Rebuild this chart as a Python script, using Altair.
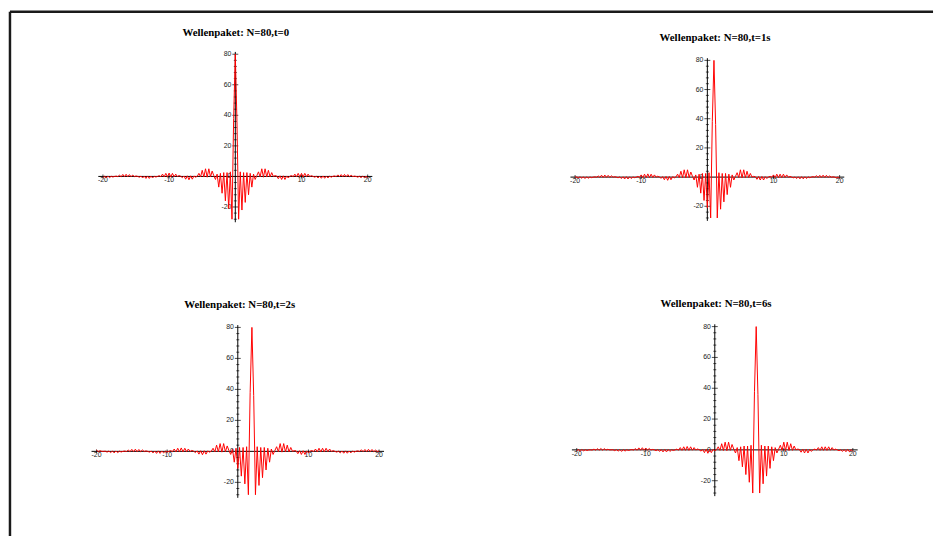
import altair as alt
import pandas as pd

# ---------------- data ----------------
TITLES = ["Wellenpaket: N=80,t=0", "Wellenpaket: N=80,t=1s",
          "Wellenpaket: N=80,t=2s", "Wellenpaket: N=80,t=6s"]
CENTERS = [0, 1, 2, 6]          # position of the packet's peak in each panel
R_START = -26.0                 # profile offsets relative to the peak
R_STEP = 0.25
PROFILE = [
    -0.5, 0.2, -0.7, 0.2, -0.6, 0.1, -0.4, 0.0,
    0.0, -0.1, 0.5, -0.2, 0.8, -0.2, 0.9, -0.2,
    0.8, -0.1, 0.4, 0.0, 0.0, 0.1, -0.5, 0.2,
    -0.8, 0.2, -1.0, 0.2, -0.8, 0.1, -0.4, 0.0,
    0.2, -0.1, 0.8, -0.2, 1.3, -0.2, 1.4, -0.2,
    1.2, -0.2, 0.9, -0.1, 0.3, 0.0, -0.5, 0.2,
    -1.0, 0.2, -1.3, 0.3, -1.3, 0.2, -1.0, 0.1,
    -0.4, 0.0, 0.5, -0.2, 1.5, -0.3, 2.0, -0.3,
    2.2, -0.3, 2.0, -0.2, 1.5, -0.1, 0.6, 0.1,
    -0.8, 0.3, -1.8, 0.4, -2.2, 0.4, -1.8, 0.3,
    -0.5, 0.1, 2.0, -0.3, 4.0, -0.4, 5.0, -0.5,
    5.0, -0.3, 3.5, 0.5, -2.0, 1.5, -7.0, 2.0,
    -11.0, 2.5, -16.0, 2.5, -21.0, 3.0, -28.0, 38.0,
    80.0, 36.0, -28.0, 3.0, -22.0, 2.5, -17.0, 2.5,
    -12.0, 2.0, -7.0, 1.5, -2.0, 0.5, 3.0, -0.3,
    5.0, -0.5, 5.0, -0.4, 4.0, -0.3, 2.5, 0.0,
    0.5, 0.3, -1.5, 0.4, -2.0, 0.4, -2.0, 0.3,
    -1.0, 0.2, 0.5, -0.1, 1.5, -0.3, 2.0, -0.3,
    2.0, -0.3, 2.0, -0.2, 1.5, -0.1, 0.5, 0.0,
    -0.5, 0.1, -1.0, 0.2, -1.2, 0.3, -1.2, 0.2,
    -1.0, 0.2, -0.5, 0.1, 0.3, -0.1, 1.0, -0.2,
    1.2, -0.2, 1.3, -0.2, 1.2, -0.2, 0.8, -0.1,
    0.2, 0.0, -0.5, 0.1, -0.8, 0.2, -0.9, 0.2,
    -0.8,
]
X_RANGE = [-20, 20]

X_TICKS = [-20, -10, 10, 20]
X_TICK_LABELS = ["-20", "-10", "10", "20"]
Y_MAJOR = [-20, 20, 40, 60, 80]
Y_MINOR = [-28, -24, -16, -12, -8, -4, 4, 8, 12, 16, 24, 28, 32, 36,
           44, 48, 52, 56, 64, 68, 72, 76]
Y_TICK_VALUES = [80, 60, 40, 20, 0, -20]
Y_TICK_LABELS = ["80", "60", "40", "20", "0", "-20"]
X_AXIS_EXTENT = [-20.7, 20.7]
Y_AXIS_EXTENT = [-30, 81.5]

# per panel scale domains (placement of the Maple-style axes in each cell)
X_DOMAINS = [[-21.68, 21.83], [-20.75, 22.79], [-20.66, 20.1], [-20.96, 20.76]]
Y_DOMAINS = [[-31.0, 83.9], [-32.0, 88.3], [-28.8, 84.5], [-29.9, 84.0]]
TITLE_POS = [(146, -15), (147, -10), (150, -16), (148, -17)]   # title centre, px in the cell

W, H = 292, 178
LABEL_FONT = "Liberation Sans"
TITLE_FONT = "Liberation Serif"


def panel(i):
    xs = alt.Scale(domain=X_DOMAINS[i], nice=False, zero=False)
    ys = alt.Scale(domain=Y_DOMAINS[i], nice=False, zero=False)
    c = CENTERS[i]
    xv = [R_START + k * R_STEP + c for k in range(len(PROFILE))]
    df = pd.DataFrame({"x": xv, "y": PROFILE})
    df = df[(df.x >= X_RANGE[0]) & (df.x <= X_RANGE[1])]

    X = lambda f: alt.X(f, type="quantitative", scale=xs, axis=None)
    Y = lambda f: alt.Y(f, type="quantitative", scale=ys, axis=None)

    xaxis = alt.Chart(pd.DataFrame({"x": [X_AXIS_EXTENT[0]], "x2": [X_AXIS_EXTENT[1]], "y": [0]})).mark_rule(
        color="#000000", strokeWidth=1).encode(x=X("x"), x2="x2", y=Y("y"))
    yaxis = alt.Chart(pd.DataFrame({"x": [0], "y": [Y_AXIS_EXTENT[0]], "y2": [Y_AXIS_EXTENT[1]]})).mark_rule(
        color="#000000", strokeWidth=1).encode(x=X("x"), y=Y("y"), y2="y2")

    xt = alt.Chart(pd.DataFrame({"x": X_TICKS, "y": [0] * len(X_TICKS)})).mark_tick(
        orient="vertical", size=4, thickness=1, color="#000000").encode(x=X("x"), y=Y("y"))
    ymaj = alt.Chart(pd.DataFrame({"x": [0] * len(Y_MAJOR), "y": Y_MAJOR})).mark_tick(
        orient="horizontal", size=6, thickness=1, color="#000000").encode(x=X("x"), y=Y("y"))
    ymin = alt.Chart(pd.DataFrame({"x": [0] * len(Y_MINOR), "y": Y_MINOR})).mark_tick(
        orient="horizontal", size=3, thickness=1, color="#000000").encode(x=X("x"), y=Y("y"))

    xl = alt.Chart(pd.DataFrame({"x": X_TICKS, "y": [0] * len(X_TICKS), "t": X_TICK_LABELS})).mark_text(
        font=LABEL_FONT, fontSize=7, color="#222222", baseline="middle", align="center", dy=4
    ).encode(x=X("x"), y=Y("y"), text="t:N")
    yl = alt.Chart(pd.DataFrame({"x": [0] * len(Y_TICK_VALUES), "y": Y_TICK_VALUES, "t": Y_TICK_LABELS})).mark_text(
        font=LABEL_FONT, fontSize=7, color="#222222", baseline="middle", align="right", dx=-4
    ).encode(x=X("x"), y=Y("y"), text="t:N")

    curve = alt.Chart(df).mark_line(color="#ff0000", strokeWidth=1).encode(x=X("x"), y=Y("y"))

    title = alt.Chart(pd.DataFrame({"t": [TITLES[i]]})).mark_text(
        font=TITLE_FONT, fontSize=11, fontWeight="bold", color="#000000",
        align="center", baseline="middle"
    ).encode(x=alt.value(TITLE_POS[i][0]), y=alt.value(TITLE_POS[i][1]), text="t:N")

    layers = [xaxis, yaxis, xt, ymaj, ymin, xl, yl, curve, title]
    if i == 0:
        # page frame (decoration) drawn from the first cell
        frame_v = alt.Chart(pd.DataFrame({"a": [0]})).mark_rule(color="#1a1a1a", strokeWidth=2.5).encode(
            x=alt.value(-83), y=alt.value(-37), y2=alt.value(505))
        frame_h = alt.Chart(pd.DataFrame({"a": [0]})).mark_rule(color="#1a1a1a", strokeWidth=2.5).encode(
            x=alt.value(-83), x2=alt.value(853), y=alt.value(-37))
        layers += [frame_v, frame_h]

    return alt.layer(*layers).properties(width=W, height=H)


chart = alt.concat(
    panel(0), panel(1), panel(2), panel(3),
    columns=2, spacing={"row": 98, "column": 193}, bounds="flush",
).properties(padding={"top": -2, "left": 0, "right": 0, "bottom": 0},
             background="white").configure_view(strokeWidth=0)

chart.save("out.html", embed_options={"renderer": "svg", "actions": False})
